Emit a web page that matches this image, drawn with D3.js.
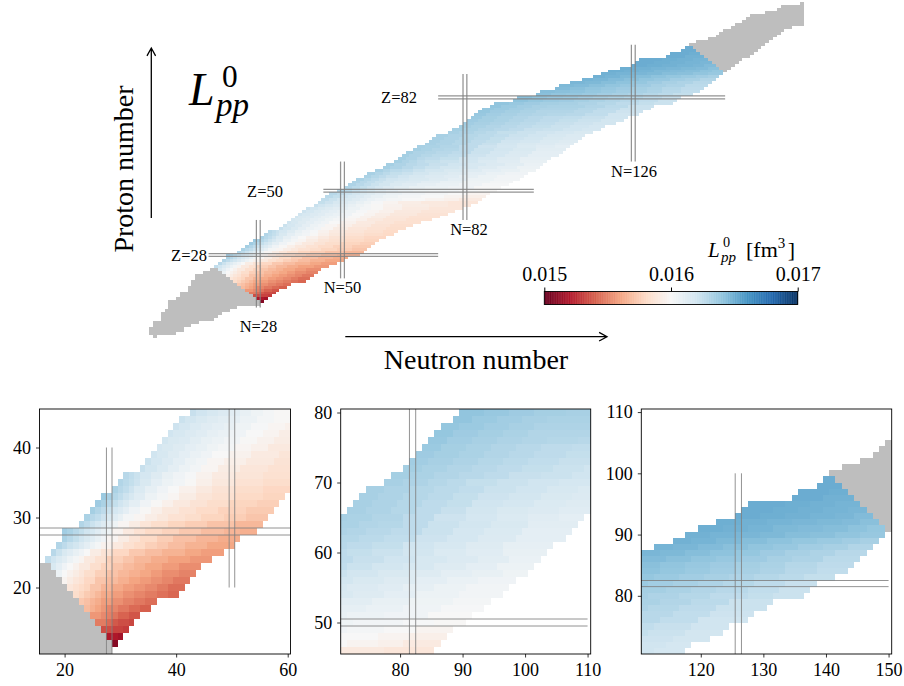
<!DOCTYPE html>
<html>
<head>
<meta charset="utf-8">
<script src="https://cdn.jsdelivr.net/npm/d3@7"></script>
<style>
  body { margin: 0; background: #fff; }
  svg { display: block; }
  text { font-family: "Liberation Serif", serif; fill: #000; }
</style>
</head>
<body>
<svg id="chart" width="904" height="686"></svg>
<script>
// L_pp^0 values are in units of 1e-5 fm^3, so 1600 means 0.016
// each row below is for one Z: pairs of [last N of the run, value]
var firstZ = 12;
var nFirst = [29,28,27,26,25,24,23,22,21,20,19,18,17,18,19,20,20,23,24,25,26,27,29,30,31,34,35,36,37,38,39,40,41,43,
  44,45,46,47,49,51,52,53,54,56,57,59,61,62,64,65,66,67,69,70,72,73,74,75,78,79,81,82,83,84,85,86,87,89,90,
  95,96,101,102,106,107,110,113,116,118,120,123,126,127,128,135,136,139,140];

var runsLow = [
  [29,1508],
  [29,1519,30,1516],
  [28,1535,30,1532,31,1530],
  [27,1548,28,1543,29,1538,31,1535,32,1533],
  [26,1556,27,1552,28,1549,29,1546,31,1541,33,1537],
  [24,1568,25,1564,26,1560,27,1556,29,1551,31,1547,33,1543,35,1540],
  [23,1573,24,1570,25,1566,26,1563,28,1558,30,1554,32,1550,34,1547,36,1544],
  [22,1582,23,1578,24,1574,25,1571,26,1567,28,1562,30,1558,32,1554,34,1551,36,1548,38,1545,40,1542],
  [21,1588,22,1584,23,1581,24,1578,26,1572,28,1566,30,1562,32,1558,34,1555,36,1552,38,1548,41,1544],
  [20,1597,21,1592,22,1588,23,1585,25,1579,27,1572,29,1568,31,1564,33,1560,35,1557,37,1554,39,1551,42,1547],
  [19,1606,20,1600,21,1596,22,1592,23,1588,25,1582,27,1576,29,1571,31,1567,33,1564,35,1561,37,1557,40,1553,43,1550],
  [18,1616,19,1610,20,1604,21,1600,22,1596,24,1590,26,1583,28,1577,30,1572,32,1568,34,1565,37,1561,40,1557,44,1553],
  [17,1625,18,1620,19,1615,20,1611,21,1606,22,1602,23,1597,25,1590,27,1584,30,1576,32,1572,35,1567,38,1563,42,1559,46,1556],
  [18,1628,19,1622,20,1616,21,1612,22,1608,23,1604,24,1600,26,1592,28,1586,31,1579,34,1573,37,1569,41,1565,44,1561,48,1558],
  [19,1630,20,1626,21,1622,22,1619,23,1614,24,1610,25,1606,26,1602,28,1596,30,1590,32,1584,34,1580,36,1576,38,1573,41,1569,45,1565,50,1561],
  [20,1632,21,1628,22,1624,23,1620,24,1616,25,1612,26,1608,27,1604,29,1598,31,1592,33,1586,36,1580,39,1575,43,1570,47,1566,51,1563],
  [20,1635,21,1632,22,1628,23,1624,24,1620,25,1617,26,1612,27,1608,28,1605,30,1597,32,1590,34,1585,37,1580,40,1577,44,1573,48,1569,51,1566,54,1564],
  [23,1630,24,1626,25,1622,26,1618,27,1613,28,1609,29,1605,31,1598,33,1592,35,1587,38,1582,41,1578,45,1575,50,1571,55,1567],
  [24,1632,25,1628,26,1625,27,1621,28,1616,29,1612,30,1608,32,1602,34,1598,36,1593,38,1589,41,1585,44,1582,48,1578,52,1575,56,1572],
  [25,1634,26,1630,27,1626,28,1622,29,1618,30,1614,31,1610,33,1604,35,1599,37,1594,40,1589,43,1585,47,1581,52,1577,57,1574],
  [26,1636,27,1632,28,1628,29,1624,30,1620,31,1616,33,1610,35,1604,37,1599,39,1595,42,1590,45,1586,49,1582,54,1578,58,1576],
  [27,1637,28,1633,29,1629,30,1625,31,1621,32,1617,34,1612,36,1606,38,1602,40,1598,43,1592,46,1587,50,1584,55,1580,59,1578],
  [29,1632,30,1628,31,1625,32,1621,34,1615,36,1609,38,1604,40,1600,43,1595,46,1590,50,1586,55,1582,61,1579],
  [30,1630,31,1627,32,1624,33,1621,35,1616,37,1610,39,1606,41,1603,43,1599,46,1594,50,1589,55,1585,60,1582,63,1580],
  [31,1628,32,1625,33,1622,35,1618,37,1613,39,1608,41,1604,43,1601,46,1596,50,1591,55,1587,60,1584,64,1581],
  [34,1623,36,1619,38,1615,40,1610,42,1606,44,1603,47,1598,51,1592,56,1588,61,1585,66,1582],
  [35,1622,37,1618,39,1614,41,1610,43,1606,45,1603,48,1598,52,1594,57,1590,62,1586,68,1583],
  [36,1620,38,1617,40,1613,42,1610,44,1607,46,1604,49,1600,53,1596,58,1591,63,1587,70,1584],
  [37,1618,39,1616,41,1613,43,1610,45,1608,47,1605,50,1602,53,1598,56,1595,60,1590,66,1587,73,1584],
  [38,1619,40,1616,42,1614,44,1611,46,1608,48,1606,51,1603,54,1599,57,1596,61,1592,67,1588,75,1585],
  [39,1620,41,1617,43,1614,45,1612,47,1609,49,1607,52,1604,55,1600,58,1597,62,1593,69,1589,77,1586],
  [40,1621,42,1618,44,1615,46,1612,48,1610,50,1608,53,1605,56,1601,59,1598,63,1595,70,1590,79,1587],
  [41,1622,43,1619,45,1616,47,1613,49,1611,51,1609,54,1606,57,1602,60,1599,65,1595,72,1591,81,1588],
  [43,1623,45,1620,47,1617,49,1614,51,1611,53,1608,55,1605,57,1602,60,1599,65,1596,72,1592,77,1590,83,1588]
];
var runsMid = [
  [45,1624,47,1621,49,1617,51,1614,53,1611,55,1608,57,1605,60,1601,64,1597,70,1593,77,1590,85,1588],
  [46,1625,48,1622,50,1618,52,1616,54,1613,56,1610,58,1607,61,1604,65,1602,71,1600,76,1597,80,1595,86,1591],
  [47,1627,49,1624,51,1620,53,1617,55,1614,57,1611,60,1608,64,1605,70,1602,76,1600,81,1597,87,1594],
  [48,1628,50,1625,52,1622,54,1619,56,1616,58,1613,61,1610,65,1607,71,1604,77,1602,82,1600,88,1597],
  [50,1630,52,1627,54,1623,56,1620,58,1617,61,1613,64,1610,68,1607,72,1605,80,1603,85,1601,90,1599],
  [52,1630,54,1627,56,1624,58,1621,60,1618,63,1614,67,1611,71,1608,77,1606,84,1604,91,1600],
  [53,1631,55,1628,57,1625,59,1622,62,1619,65,1615,69,1612,74,1609,80,1607,86,1604,93,1601],
  [54,1631,56,1628,58,1625,60,1622,63,1619,66,1616,70,1614,75,1611,81,1608,88,1605,94,1602],
  [55,1632,57,1629,59,1626,61,1623,64,1620,67,1618,72,1616,77,1613,82,1610,89,1606,96,1603],
  [57,1632,59,1629,61,1626,64,1623,67,1620,71,1617,76,1614,80,1612,85,1609,90,1606,97,1603],
  [58,1633,60,1630,62,1627,65,1624,68,1622,72,1619,77,1616,82,1613,87,1610,92,1607,98,1604],
  [60,1633,62,1630,65,1627,68,1625,71,1622,76,1619,81,1616,86,1613,91,1610,96,1608,100,1605],
  [62,1634,65,1631,68,1628,71,1625,75,1622,80,1619,85,1617,90,1613,95,1610,101,1606],
  [63,1634,66,1631,69,1628,72,1626,77,1623,82,1620,87,1617,92,1614,97,1611,102,1607],
  [65,1634,67,1631,69,1629,71,1626,75,1624,80,1622,85,1619,90,1615,96,1612,103,1608],
  [66,1634,69,1631,71,1628,75,1626,80,1624,85,1620,90,1617,96,1613,104,1609],
  [67,1634,70,1631,73,1629,77,1627,82,1625,87,1621,92,1618,98,1614,106,1610],
  [68,1634,71,1631,74,1630,78,1628,83,1626,88,1622,93,1618,99,1615,107,1610],
  [70,1634,73,1632,76,1630,80,1629,84,1626,89,1622,94,1619,100,1616,108,1611],
  [71,1633,75,1632,80,1630,85,1626,90,1621,95,1618,100,1615,105,1612,109,1610],
  [74,1633,78,1631,82,1629,86,1626,90,1623,95,1619,100,1616,105,1614,110,1612],
  [75,1633,79,1631,83,1629,87,1626,91,1624,96,1620,101,1618,106,1615,111,1613],
  [76,1633,80,1631,84,1629,88,1627,92,1624,97,1621,102,1619,107,1616,112,1614],
  [77,1633,81,1631,85,1629,89,1627,93,1625,98,1622,103,1620,108,1617,113,1615],
  [80,1633,84,1631,87,1629,90,1627,95,1624,100,1622,105,1620,110,1618,115,1616],
  [81,1634,85,1632,89,1630,93,1628,97,1626,102,1623,107,1622,112,1620,117,1618],
  [83,1634,87,1632,91,1630,95,1628,99,1626,104,1624,109,1622,114,1620,118,1618],
  [84,1635,88,1633,92,1631,96,1629,100,1627,105,1625,110,1623,115,1621,121,1619],
  [85,1636,89,1634,93,1632,97,1630,101,1628,106,1626,111,1624,117,1622,123,1619],
  [86,1637,90,1634,94,1632,98,1630,102,1628,107,1626,112,1625,118,1623,124,1620],
  [87,1638,91,1635,95,1633,99,1631,103,1630,108,1629,113,1628,119,1625,127,1620],
  [88,1639,92,1636,96,1634,100,1632,105,1630,110,1630,115,1628,121,1625,128,1621],
  [89,1639,93,1637,97,1635,101,1633,106,1631,111,1631,116,1629,122,1626,130,1622],
  [91,1640,95,1637,99,1635,103,1633,108,1632,113,1632,118,1630,124,1627,131,1622],
  [93,1640,97,1638,101,1636,106,1634,111,1633,116,1631,121,1629,127,1626,131,1624,136,1622]
];
var runsHigh = [
  [98,1641,102,1639,106,1637,110,1636,114,1634,118,1632,122,1630,127,1628,132,1625,137,1622],
  [99,1642,103,1640,107,1638,111,1637,115,1635,119,1633,123,1631,128,1629,133,1626,138,1623],
  [104,1642,108,1640,112,1639,116,1637,120,1635,124,1633,128,1631,132,1629,136,1627,141,1624],
  [105,1643,109,1642,113,1641,117,1639,121,1637,125,1635,129,1633,133,1631,138,1628,143,1625],
  [109,1644,113,1642,117,1640,121,1638,125,1636,129,1634,133,1632,138,1629,144,1626],
  [110,1645,114,1644,118,1642,122,1640,126,1638,130,1636,134,1633,139,1631,145,1627],
  [113,1646,117,1645,121,1643,125,1641,129,1639,133,1636,137,1633,141,1631,146,1628],
  [115,1647,119,1646,123,1644,127,1642,131,1640,135,1638,139,1635,143,1633,147,1630],
  [118,1648,122,1647,126,1645,130,1643,134,1641,138,1639,142,1637,145,1635,148,1633],
  [121,1648,125,1647,129,1646,133,1645,137,1643,141,1642,145,1640,149,1638],
  [123,1649,127,1648,131,1647,135,1645,139,1644,143,1643,146,1641,149,1639],
  [126,1649,130,1648,134,1647,138,1646,142,1645,145,1644,148,1642],
  [129,1650,133,1649,137,1648,141,1647,144,1646,147,1644],
  [131,1650,135,1649,139,1648,143,1647,146,1646],
  [133,1650,137,1649,141,1648,145,1647],
  [139,1650,144,1648],
  [140,1650,143,1649],
  [142,1650],
  [141,1650]
];

// grey nuclei (no value), light end starts at Z=0, heavy end at Z=91
var grayLowFrom = [1,0,0,0,1,1,3,3,3,4,5,5,5,7,8,8,10,10,11,11,12,12,14,16];
var grayLowTo   = [1,6,8,8,10,12,16,17,18,20,22,28,28,27,26,25,24,23,22,21,20,19,18,17];
var grayHighFrom = [150,149,148,147,146,145,144,143,142,141,143,146,148,149,150,152,153,155,156,157,161,164,165,170];
var grayHighTo   = [150,151,152,153,154,156,157,158,159,160,161,162,163,164,165,167,170,170,170,170,170,170,170,170];

var magicN = [28, 50, 82, 126];
var magicNFrom = [10, 20, 40, 60];
var magicNTo = [40, 60, 90, 100];
var magicZ = [28, 50, 82];
var magicZFrom = [15, 45, 75];
var magicZTo = [75, 100, 150];
var magicZToInset = [75, 110, 150];

var rdbu = ["#67001f","#b2182b","#d6604d","#f4a582","#fddbc7","#f7f7f7","#d1e5f0","#92c5de","#4393c3","#2166ac","#053061"];
var colorDomain = [1500,1520,1540,1560,1580,1600,1620,1640,1660,1680,1700];
var color = d3.scaleLinear().domain(colorDomain).range(rdbu);
var GRAY = "#bebebe";

// flatten everything to one list of cells
var cells = [];
runsLow.concat(runsMid, runsHigh).forEach(function(runs, i) {
  var n = nFirst[i];
  for (var k = 0; k < runs.length; k += 2) {
    for (; n <= runs[k]; n++) cells.push({ n: n, z: firstZ + i, fill: color(runs[k + 1]) });
  }
});
grayLowFrom.forEach(function(from, z) {
  for (var n = from; n <= grayLowTo[z]; n++) cells.push({ n: n, z: z, fill: GRAY });
});
grayHighFrom.forEach(function(from, i) {
  for (var n = from; n <= grayHighTo[i]; n++) cells.push({ n: n, z: 91 + i, fill: GRAY });
});

var svg = d3.select("#chart");

function drawCells(g, x, y) {
  g.selectAll("rect.cell").data(cells).join("rect")
    .attr("class", "cell")
    .attr("x", function(d) { return x(d.n - 0.5); })
    .attr("y", function(d) { return y(d.z + 0.5); })
    .attr("width", function(d) { return x(d.n + 0.5) - x(d.n - 0.5); })
    .attr("height", function(d) { return y(d.z - 0.5) - y(d.z + 0.5); })
    .attr("fill", function(d) { return d.fill; })
    .attr("shape-rendering", "crispEdges");
}

// two lines, half a unit either side of each magic number
function drawMagic(g, x, y, zTo, width) {
  [-0.5, 0.5].forEach(function(off) {
    magicN.forEach(function(m, i) {
      g.append("line").attr("x1", x(m + off)).attr("x2", x(m + off))
        .attr("y1", y(magicNFrom[i])).attr("y2", y(magicNTo[i]))
        .attr("stroke", "#808080").attr("stroke-opacity", 0.85).attr("stroke-width", width);
    });
    magicZ.forEach(function(m, i) {
      g.append("line").attr("x1", x(magicZFrom[i])).attr("x2", x(zTo[i]))
        .attr("y1", y(m + off)).attr("y2", y(m + off))
        .attr("stroke", "#808080").attr("stroke-opacity", 0.85).attr("stroke-width", width);
    });
  });
}

// main chart, no axes
var xMain = d3.scaleLinear().domain([28, 126]).range([258.3, 633.3]);
var yMain = d3.scaleLinear().domain([28, 82]).range([255, 97.3]);
var main = svg.append("g");
drawCells(main, xMain, yMain);
drawMagic(main, xMain, yMain, magicZTo, 1.25);

var magicLabels = [
  ["Z=28", 189, 261], ["Z=50", 265, 197], ["Z=82", 399, 103],
  ["N=28", 258.5, 332], ["N=50", 342.5, 293], ["N=82", 469, 235], ["N=126", 634, 177]
];
main.selectAll("text.magic").data(magicLabels).join("text")
  .attr("class", "magic")
  .attr("x", function(d) { return d[1]; })
  .attr("y", function(d) { return d[2]; })
  .attr("text-anchor", "middle")
  .attr("font-size", 16.5)
  .text(function(d) { return d[0]; });

// arrows
function arrow(x1, y1, x2, y2) {
  var a = Math.atan2(y2 - y1, x2 - x1), w = 9, s = 0.5;
  var path = d3.path();
  path.moveTo(x1, y1);
  path.lineTo(x2, y2);
  path.moveTo(x2 - w * Math.cos(a - s), y2 - w * Math.sin(a - s));
  path.lineTo(x2, y2);
  path.lineTo(x2 - w * Math.cos(a + s), y2 - w * Math.sin(a + s));
  svg.append("path").attr("d", path.toString()).attr("fill", "none").attr("stroke", "#000").attr("stroke-width", 1.3);
}
arrow(151.3, 218, 151.3, 48);
arrow(345.3, 336.7, 607, 336.7);

svg.append("text").attr("x", 476).attr("y", 369).attr("text-anchor", "middle")
  .attr("font-size", 28).text("Neutron number");
svg.append("text").attr("transform", "translate(133,169) rotate(-90)").attr("text-anchor", "middle")
  .attr("font-size", 28).text("Proton number");

// L with sub and superscript, kept as one text
function bigL(x, y, size, subSize, subDy, subDx, supDx, supDy) {
  var t = svg.append("text").attr("x", x).attr("y", y).attr("font-size", size).attr("font-style", "italic").text("L");
  t.append("tspan").attr("font-size", subSize).attr("dx", subDx).attr("dy", subDy).text("pp");
  t.append("tspan").attr("font-size", subSize * 0.95).attr("font-style", "normal").attr("dx", supDx).attr("dy", supDy).text("0");
}
bigL(189, 105, 46, 33, 11, 1.4, -27, -29);
bigL(708, 257, 21, 15, 5, 1.3, -13, -15);

var unit = svg.append("text").attr("x", 746).attr("y", 257).attr("font-size", 22).text("[fm");
unit.append("tspan").attr("font-size", 15).attr("dy", -9).text("3");
unit.append("tspan").attr("dx", 2.5).attr("dy", 9).text("]");

// colorbar
var cbX = d3.scaleLinear().domain([1500, 1700]).range([544.3, 797.7]);
var cbSteps = d3.range(1500, 1700, 0.5);
svg.append("g").selectAll("rect").data(cbSteps).join("rect")
  .attr("x", function(d) { return cbX(d); })
  .attr("y", 291.5)
  .attr("width", 1)
  .attr("height", 13)
  .attr("fill", function(d) { return color(d); });
svg.append("rect").attr("x", 544.3).attr("y", 291.5).attr("width", 253.4).attr("height", 13)
  .attr("fill", "none").attr("stroke", "#000").attr("stroke-width", 0.9);
var cbAxis = d3.axisTop(cbX).tickValues([1500, 1600, 1700]).tickSize(4).tickSizeOuter(0)
  .tickFormat(function(d) { return (d / 100000).toFixed(3); });
var cbG = svg.append("g").attr("transform", "translate(0,291.5)").call(cbAxis);
cbG.select(".domain").remove();
cbG.selectAll("text").attr("font-size", 20).attr("font-family", "Liberation Serif").attr("fill", "#000").attr("dy", "-0.2em");

// the three zoomed panels
var panels = [
  { left: 39.5, right: 290.5, nLim: [15.5, 60.5], zLim: [10.5, 45.5], xTicks: [20, 40, 60], yTicks: [20, 30, 40] },
  { left: 340.7, right: 590.7, nLim: [70.5, 110.5], zLim: [45.5, 80.5], xTicks: [80, 90, 100, 110], yTicks: [50, 60, 70, 80] },
  { left: 641.3, right: 891.7, nLim: [110.5, 150.5], zLim: [70.5, 110.5], xTicks: [120, 130, 140, 150], yTicks: [80, 90, 100, 110] }
];
var panelTop = 409, panelBottom = 654;

panels.forEach(function(p, i) {
  var x = d3.scaleLinear().domain(p.nLim).range([p.left, p.right]);
  var y = d3.scaleLinear().domain(p.zLim).range([panelBottom, panelTop]);
  var id = "clip" + i;
  svg.append("clipPath").attr("id", id).append("rect")
    .attr("x", p.left).attr("y", panelTop)
    .attr("width", p.right - p.left).attr("height", panelBottom - panelTop);
  var g = svg.append("g").attr("clip-path", "url(#" + id + ")");
  drawCells(g, x, y);
  drawMagic(g, x, y, magicZToInset, 1);

  var ax = svg.append("g").attr("transform", "translate(0," + panelBottom + ")")
    .call(d3.axisBottom(x).tickValues(p.xTicks).tickSize(3.5).tickSizeOuter(0).tickPadding(6));
  var ay = svg.append("g").attr("transform", "translate(" + p.left + ",0)")
    .call(d3.axisLeft(y).tickValues(p.yTicks).tickSize(3.5).tickSizeOuter(0).tickPadding(5));
  [ax, ay].forEach(function(a) {
    a.select(".domain").remove();
    a.selectAll("text").attr("font-size", 18).attr("font-family", "Liberation Serif").attr("fill", "#000");
    a.selectAll("line").attr("stroke", "#000").attr("stroke-width", 0.8);
  });
  svg.append("rect").attr("x", p.left).attr("y", panelTop)
    .attr("width", p.right - p.left).attr("height", panelBottom - panelTop)
    .attr("fill", "none").attr("stroke", "#000").attr("stroke-width", 0.9);
});
</script>
</body>
</html>
